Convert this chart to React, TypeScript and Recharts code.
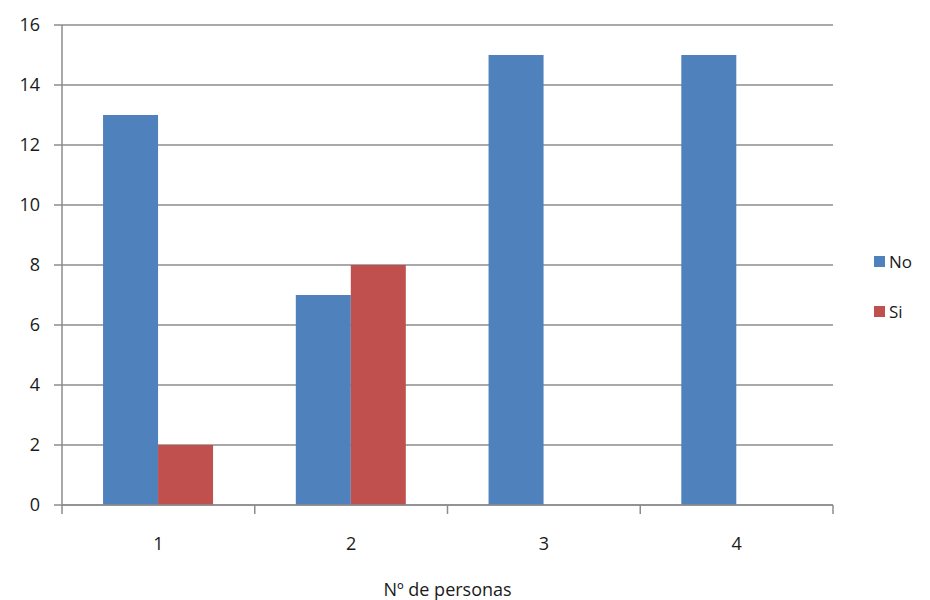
import { BarChart, Bar, XAxis, YAxis, CartesianGrid } from 'recharts';

const categories = ['1', '2', '3', '4'];
const noValues = [13, 7, 15, 15];
const siValues = [2, 8, 0, 0];
const yTicks = [0, 2, 4, 6, 8, 10, 12, 14, 16];
const seriesNames = ['No', 'Si'];

const data = categories.map((c, i) => ({ cat: c, No: noValues[i], Si: siValues[i] }));

const BLUE = '#4f81bd';
const RED = '#c0504d';
const GRID = '#8c8c8c';
const TEXT = '#1a1a1a';
const FONT = '"Open Sans", "Noto Sans", sans-serif';

const WIDTH = 930;
const HEIGHT = 600;
const PLOT_LEFT = 62;
const PLOT_RIGHT = 833;
const PLOT_TOP = 25;
const PLOT_BOTTOM = 505;
const BAND = (PLOT_RIGHT - PLOT_LEFT) / categories.length;

// ticks sit on the category boundaries, labels in the band centre
const CategoryTick = (props: any) => {
  const { x, payload, index } = props;
  const left = x - BAND / 2;
  return (
    <g>
      <line x1={left} y1={PLOT_BOTTOM} x2={left} y2={PLOT_BOTTOM + 9} stroke={GRID} strokeWidth={1.5} />
      {index === categories.length - 1 && (
        <line x1={left + BAND} y1={PLOT_BOTTOM} x2={left + BAND} y2={PLOT_BOTTOM + 9} stroke={GRID} strokeWidth={1.5} />
      )}
      <text x={x} y={PLOT_BOTTOM + 45} textAnchor="middle" fontSize={18} fill={TEXT} fontFamily={FONT}>
        {payload.value}
      </text>
    </g>
  );
};

export default function App() {
  const colors = [BLUE, RED];
  return (
    <div style={{ position: 'absolute', left: 0, top: 0, width: WIDTH, height: HEIGHT, background: '#fff' }}>
      <BarChart
        width={WIDTH}
        height={HEIGHT}
        data={data}
        margin={{ top: PLOT_TOP, right: WIDTH - PLOT_RIGHT, bottom: 0, left: 0 }}
        barCategoryGap="21.3%"
        barGap={0}
      >
        <CartesianGrid stroke={GRID} strokeWidth={1.5} vertical={false} />
        <XAxis
          dataKey="cat"
          height={HEIGHT - PLOT_BOTTOM}
          tickLine={false}
          axisLine={{ stroke: GRID, strokeWidth: 1.5 }}
          tick={<CategoryTick />}
          interval={0}
          label={{
            value: 'Nº de personas',
            position: 'insideBottom',
            offset: 4,
            style: { fontSize: 18, fill: TEXT, fontFamily: FONT },
          }}
        />
        <YAxis
          width={PLOT_LEFT}
          domain={[0, 16]}
          ticks={yTicks}
          interval={0}
          tickSize={8}
          tickMargin={14}
          tickLine={{ stroke: GRID, strokeWidth: 1.5 }}
          axisLine={{ stroke: GRID, strokeWidth: 1.5 }}
          tick={{ fontSize: 18, fill: TEXT, fontFamily: FONT }}
        />
        <Bar dataKey="No" fill={BLUE} isAnimationActive={false} />
        <Bar dataKey="Si" fill={RED} isAnimationActive={false} />
      </BarChart>
      <div style={{ position: 'absolute', left: 874, top: 249, fontFamily: FONT, fontSize: 17, color: TEXT }}>
        {seriesNames.map((name, i) => (
          <div key={name} style={{ display: 'flex', alignItems: 'center', height: 24, marginTop: i ? 26 : 0 }}>
            <span style={{ width: 11, height: 11, background: colors[i], display: 'inline-block', marginRight: 4 }} />
            <span>{name}</span>
          </div>
        ))}
      </div>
    </div>
  );
}
